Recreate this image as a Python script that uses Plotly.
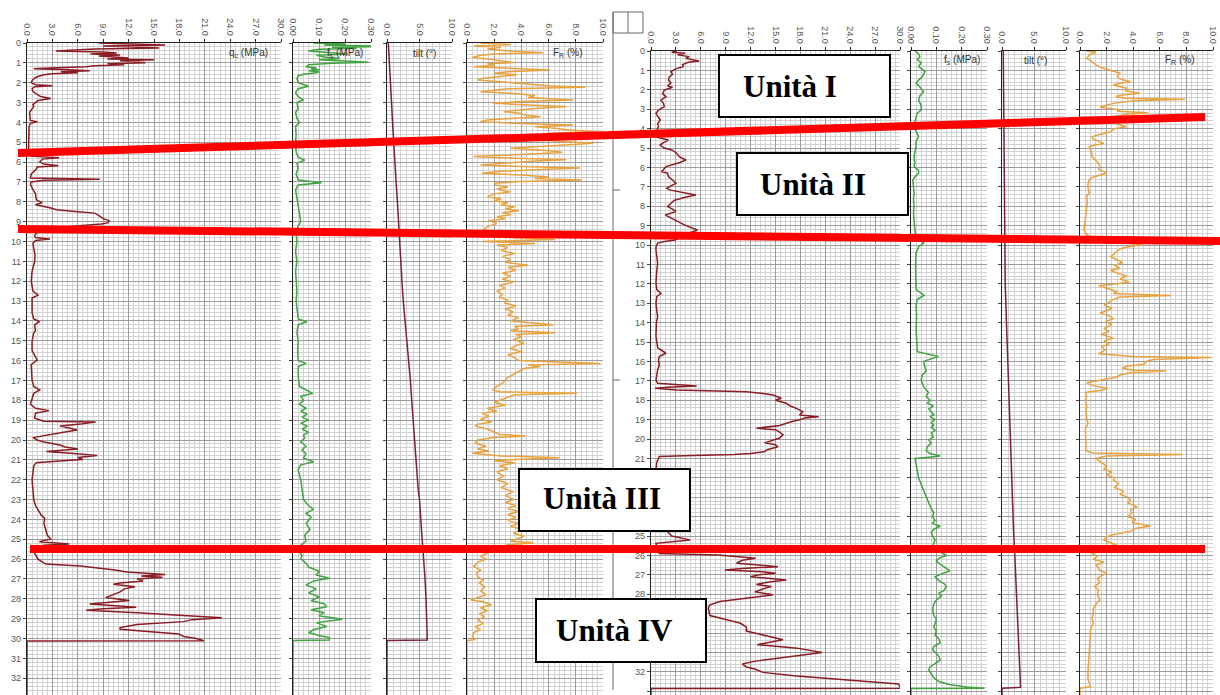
import plotly.graph_objects as go

W, H = 1220, 695

# ---------------- DATA (depth m, value) ----------------
# Left CPT log
L_QC = [(0.00,8.5),(0.05,14.5),(0.10,16.3),(0.15,9.0),(0.20,14.0),(0.25,15.6),(0.30,8.0),(0.35,5.0),(0.40,3.4),
        (0.45,9.0),(0.50,10.6),(0.55,7.5),(0.60,11.0),(0.65,8.5),(0.70,9.8),(0.75,12.0),(0.80,9.5),(0.85,15.0),
        (0.90,11.0),(0.95,12.5),(1.00,14.0),(1.05,9.5),(1.10,11.5),(1.15,8.0),(1.20,7.0),(1.25,3.5),(1.30,0.8),
        (1.35,5.0),(1.40,7.4),(1.45,4.0),(1.50,6.0),(1.55,3.0),(1.60,2.0),(1.70,1.2),(1.80,0.8),(1.90,0.6),
        (2.00,0.5),(2.10,1.0),(2.15,3.0),(2.20,0.9),(2.30,0.6),(2.45,0.7),(2.60,1.2),(2.70,1.6),(2.80,2.8),
        (2.90,1.3),(3.00,1.0),(3.10,0.7),(3.20,0.8),(3.35,0.5),(3.50,0.3),(3.70,0.35),(3.90,0.4),(3.97,1.2),
        (4.05,0.4),(4.20,0.25),(4.50,0.2),(5.00,0.2),(5.50,0.2),(5.70,0.4),(5.78,3.8),(5.85,1.8),(6.00,1.5),
        (6.10,2.0),(6.18,3.7),(6.25,1.2),(6.40,1.0),(6.60,0.5),(6.80,0.4),(6.87,8.6),(6.92,2.0),(7.00,0.5),
        (7.10,0.4),(7.30,0.6),(7.60,1.0),(7.90,1.1),(8.04,1.8),(8.15,1.0),(8.30,2.7),(8.40,3.5),(8.50,6.0),
        (8.57,8.0),(8.70,8.5),(8.85,9.0),(8.95,9.7),(9.05,9.6),(9.12,8.8),(9.25,5.0),(9.40,2.0),(9.55,1.2),
        (9.70,0.9),(9.80,1.0),(9.87,2.7),(9.95,1.0),(10.10,0.7),(10.40,0.8),(10.70,0.95),(11.00,0.9),(11.50,0.6),
        (12.00,0.5),(12.50,0.7),(12.70,1.3),(12.85,0.6),(13.20,0.6),(13.60,0.6),(13.90,0.8),(14.04,1.45),
        (14.20,0.9),(14.50,1.0),(14.60,0.8),(15.00,0.6),(15.50,0.6),(15.97,1.2),(16.20,0.5),(16.60,0.55),
        (17.00,0.6),(17.30,0.8),(17.48,1.5),(17.65,0.8),(18.00,0.6),(18.20,0.4),(18.40,1.0),(18.52,2.6),
        (18.65,1.0),(18.90,0.9),(19.05,2.0),(19.09,8.1),(19.20,6.3),(19.30,3.9),(19.40,5.0),(19.50,5.9),
        (19.60,4.5),(19.75,2.6),(19.88,0.7),(20.00,1.2),(20.10,2.0),(20.25,3.9),(20.35,4.5),(20.45,6.0),
        (20.58,2.3),(20.68,5.5),(20.78,8.3),(20.88,6.0),(20.98,6.6),(21.08,3.0),(21.14,1.1),(21.30,0.8),
        (21.60,0.7),(22.00,0.6),(22.50,0.7),(23.00,0.8),(23.30,1.0),(23.53,1.3),(23.80,1.7),(23.95,2.1),
        (24.20,2.0),(24.50,2.2),(24.80,2.4),(24.99,2.8),(25.12,1.45),(25.24,5.0),(25.30,2.0),(25.45,0.9),
        (25.70,0.9),(26.00,1.3),(26.13,1.7),(26.25,2.2),(26.35,6.3),(26.45,8.5),(26.55,10.4),(26.65,11.8),
        (26.77,16.3),(26.85,13.5),(26.92,16.0),(27.00,13.0),(27.10,13.7),(27.20,11.0),(27.27,10.2),(27.39,12.75),
        (27.50,11.5),(27.65,11.0),(27.80,10.0),(27.94,9.3),(28.09,12.1),(28.20,9.0),(28.26,7.4),(28.35,10.5),
        (28.43,12.9),(28.50,9.0),(28.58,7.0),(28.70,13.0),(28.80,17.0),(28.85,20.0),(28.95,23.0),(29.05,19.5),
        (29.15,18.5),(29.30,13.0),(29.45,11.0),(29.54,11.0),(29.65,14.0),(29.77,17.9),(29.90,18.5),(30.00,20.0),
        (30.11,20.9),(30.12,0.0),(32.85,0.0)]

L_FS = [(0.00,0.08),(0.05,0.20),(0.10,0.12),(0.15,0.30),(0.19,0.30),(0.22,0.15),(0.27,0.245),(0.32,0.10),
        (0.40,0.06),(0.47,0.15),(0.55,0.21),(0.62,0.09),(0.70,0.12),(0.78,0.18),(0.85,0.10),(0.92,0.22),
        (0.97,0.29),(1.02,0.15),(1.10,0.06),(1.20,0.05),(1.25,0.09),(1.30,0.07),(1.35,0.10),(1.40,0.06),
        (1.45,0.10),(1.50,0.09),(1.58,0.04),(1.65,0.02),(1.80,0.015),(2.00,0.02),(2.18,0.06),(2.30,0.02),
        (2.50,0.01),(2.70,0.02),(2.87,0.04),(3.00,0.015),(3.30,0.02),(3.50,0.01),(3.80,0.015),(4.00,0.025),
        (4.20,0.01),(4.60,0.012),(5.00,0.01),(5.50,0.012),(5.75,0.02),(5.90,0.045),(6.05,0.015),(6.30,0.02),
        (6.60,0.012),(6.90,0.02),(7.04,0.11),(7.15,0.02),(7.40,0.01),(7.80,0.015),(8.30,0.02),(8.60,0.025),
        (9.00,0.03),(9.20,0.02),(9.60,0.012),(10.00,0.015),(10.50,0.01),(11.00,0.015),(11.50,0.01),(12.00,0.012),
        (12.50,0.015),(13.00,0.012),(13.50,0.015),(13.90,0.02),(14.04,0.053),(14.20,0.02),(14.60,0.015),
        (15.00,0.02),(15.50,0.018),(16.00,0.02),(16.14,0.05),(16.30,0.02),(16.80,0.02),(17.30,0.025),
        (17.65,0.076),(17.80,0.03),(18.00,0.04),(18.20,0.025),(18.40,0.05),(18.55,0.03),(18.70,0.055),
        (18.85,0.035),(19.00,0.06),(19.15,0.03),(19.30,0.055),(19.45,0.035),(19.60,0.06),(19.75,0.04),
        (19.90,0.045),(20.10,0.03),(20.30,0.05),(20.50,0.035),(20.70,0.05),(20.90,0.04),(21.10,0.08),
        (21.25,0.03),(21.50,0.02),(22.00,0.03),(22.50,0.035),(23.00,0.04),(23.30,0.06),(23.50,0.078),
        (23.70,0.05),(23.90,0.07),(24.20,0.05),(24.50,0.065),(24.80,0.045),(25.10,0.05),(25.30,0.03),
        (25.60,0.02),(25.80,0.035),(26.00,0.03),(26.20,0.05),(26.40,0.06),(26.60,0.10),(26.80,0.09),
        (26.97,0.14),(27.10,0.08),(27.30,0.05),(27.50,0.09),(27.70,0.06),(27.90,0.10),(28.10,0.07),
        (28.25,0.12),(28.40,0.13),(28.55,0.07),(28.70,0.12),(28.85,0.10),(29.03,0.19),(29.20,0.09),
        (29.40,0.13),(29.55,0.08),(29.70,0.06),(29.85,0.10),(29.95,0.14),(30.08,0.14),(30.10,0.0),(32.85,0.0)]

L_TILT = [(0,0.2),(1,0.4),(2,0.55),(3,0.7),(4,0.85),(5,1.0),(6,1.2),(7,1.4),(8,1.6),(9,1.75),(10,1.9),
          (11,2.1),(12,2.3),(13,2.5),(14,2.8),(15,3.05),(16,3.35),(17,3.6),(18,3.8),(19,4.0),(20,4.2),
          (21,4.4),(22,4.6),(22.5,4.8),(23,5.0),(23.7,5.1),(24.5,5.3),(25.4,5.5),(26,5.65),(27,5.85),
          (28,6.0),(29,6.1),(30.08,6.2),(30.1,0.0),(32.85,0.0)]

L_FR = [(0.00,1.0),(0.08,3.2),(0.15,0.5),(0.22,2.5),(0.30,1.5),(0.40,3.0),(0.49,5.6),(0.55,2.0),(0.62,1.0),
        (0.73,0.4),(0.80,1.5),(0.90,2.5),(0.98,3.4),(1.05,1.5),(1.12,2.0),(1.20,0.5),(1.28,3.0),(1.36,6.1),
        (1.45,3.0),(1.52,2.0),(1.60,3.65),(1.70,2.0),(1.78,1.2),(1.86,0.8),(1.95,2.5),(2.05,4.0),(2.15,6.0),
        (2.23,8.7),(2.30,3.0),(2.38,2.0),(2.45,1.0),(2.55,3.5),(2.65,5.0),(2.75,4.5),(2.87,7.8),(2.95,4.0),
        (3.04,1.9),(3.12,4.5),(3.20,7.3),(3.30,5.0),(3.38,3.5),(3.46,2.7),(3.55,4.0),(3.63,4.2),(3.71,5.4),
        (3.80,3.0),(3.88,1.5),(3.96,1.0),(4.04,3.5),(4.13,7.8),(4.22,5.0),(4.30,6.5),(4.38,7.5),(4.47,9.5),
        (4.55,6.0),(4.63,7.0),(4.72,5.5),(4.80,6.0),(4.88,5.2),(4.96,7.0),(5.05,9.3),(5.13,7.5),(5.22,5.0),
        (5.30,3.2),(5.38,5.0),(5.45,6.5),(5.52,7.0),(5.60,4.0),(5.66,2.0),(5.72,0.5),(5.80,3.5),(5.88,7.3),
        (5.95,5.0),(6.05,3.0),(6.14,1.0),(6.22,4.0),(6.30,8.3),(6.38,5.0),(6.46,2.5),(6.56,1.1),(6.65,4.0),
        (6.75,6.0),(6.82,5.0),(6.90,8.4),(6.98,4.0),(7.06,2.0),(7.15,2.1),(7.25,3.0),(7.35,2.2),(7.42,2.5),
        (7.50,3.2),(7.60,2.0),(7.74,1.5),(7.85,2.5),(7.95,2.0),(8.05,3.0),(8.15,2.5),(8.25,3.5),(8.35,2.8),
        (8.45,3.8),(8.55,2.6),(8.65,3.2),(8.75,2.2),(8.85,2.8),(8.95,1.6),(9.10,2.2),(9.25,1.5),(9.40,1.2),
        (9.55,2.0),(9.70,1.5),(9.80,3.0),(9.90,6.5),(10.00,1.2),(10.10,5.0),(10.18,2.2),(10.30,3.0),
        (10.45,2.5),(10.60,3.5),(10.75,2.6),(10.90,3.2),(11.05,2.8),(11.20,4.5),(11.30,3.0),(11.45,3.6),
        (11.60,2.6),(11.75,3.2),(11.90,2.6),(12.05,3.4),(12.20,2.4),(12.35,2.8),(12.50,2.2),(12.65,2.6),
        (12.80,2.4),(12.95,3.0),(13.10,2.8),(13.25,3.6),(13.40,2.8),(13.55,3.4),(13.70,3.0),(13.85,3.8),
        (14.00,3.2),(14.20,6.35),(14.28,3.5),(14.40,3.8),(14.50,3.2),(14.60,6.5),(14.68,3.6),(14.80,4.0),
        (14.95,3.4),(15.10,4.2),(15.25,3.6),(15.40,3.2),(15.55,4.0),(15.70,3.0),(15.85,3.5),(16.00,3.8),
        (16.14,9.8),(16.22,4.5),(16.30,5.4),(16.40,4.2),(16.55,3.8),(16.70,3.4),(16.85,3.0),(17.00,2.8),
        (17.15,2.6),(17.30,2.2),(17.48,1.9),(17.58,2.5),(17.65,8.1),(17.72,3.5),(17.80,3.2),(17.95,2.6),
        (18.10,2.0),(18.25,2.8),(18.40,1.5),(18.55,2.2),(18.65,1.1),(18.80,1.6),(18.95,1.0),(19.10,1.8),
        (19.20,0.8),(19.30,0.6),(19.45,1.5),(19.60,2.0),(19.72,2.4),(19.80,4.3),(19.88,2.0),(20.00,0.8),
        (20.17,0.6),(20.30,1.4),(20.45,0.8),(20.55,1.6),(20.67,0.4),(20.80,2.5),(20.90,6.8),(20.98,3.5),
        (21.05,2.0),(21.15,3.5),(21.30,2.4),(21.45,3.0),(21.60,2.2),(21.82,2.7),(22.00,2.2),(22.20,3.0),
        (22.40,2.5),(22.60,3.4),(22.80,2.8),(23.00,3.45),(23.15,2.8),(23.30,3.6),(23.45,3.0),(23.60,3.8),
        (23.75,3.0),(23.90,3.6),(24.05,3.0),(24.20,3.8),(24.35,3.2),(24.50,4.0),(24.70,3.4),(24.85,4.2),
        (25.00,3.6),(25.10,3.2),(25.18,4.9),(25.28,3.0),(25.40,2.5),(25.55,2.0),(25.70,1.4),(25.85,1.0),
        (26.00,1.4),(26.15,0.8),(26.38,0.5),(26.55,1.0),(26.70,0.7),(26.90,0.8),(27.05,1.2),(27.20,0.9),
        (27.40,1.3),(27.60,1.0),(27.80,1.4),(28.06,0.3),(28.15,1.2),(28.30,1.8),(28.45,1.0),(28.60,1.5),
        (28.75,0.9),(28.90,1.3),(29.06,0.8),(29.25,1.2),(29.40,0.6),(29.55,1.0),(29.70,0.5),(29.90,0.4),
        (30.05,0.6),(30.10,0.0),(32.85,0.0)]

# Right CPT log
R_QC = [(0.00,3.1),(0.06,2.5),(0.12,4.1),(0.20,3.2),(0.29,4.6),(0.38,4.2),(0.45,5.0),(0.51,5.8),(0.58,4.5),
        (0.70,3.8),(0.80,3.9),(0.92,3.0),(1.06,2.4),(1.20,2.6),(1.35,2.2),(1.50,2.1),(1.65,2.4),(1.80,2.0),
        (1.87,2.6),(2.01,1.6),(2.20,1.4),(2.35,1.8),(2.53,1.2),(2.70,1.5),(2.87,1.6),(3.05,0.9),(3.21,0.6),
        (3.40,0.9),(3.56,1.1),(3.75,0.8),(3.90,0.9),(4.10,0.7),(4.30,0.7),(4.45,0.8),(4.59,2.1),(4.72,1.5),
        (4.85,1.1),(5.00,1.6),(5.10,2.5),(5.27,3.1),(5.45,3.4),(5.62,4.2),(5.75,3.5),(5.96,1.8),(6.13,1.5),
        (6.22,1.3),(6.30,2.0),(6.48,2.1),(6.65,2.6),(6.82,3.0),(6.95,2.4),(7.08,1.9),(7.16,2.2),(7.30,3.8),
        (7.42,5.4),(7.55,4.0),(7.70,2.8),(7.85,2.4),(8.02,2.0),(8.15,2.6),(8.28,3.0),(8.45,1.7),(8.60,2.4),
        (8.80,3.4),(9.00,4.2),(9.23,5.6),(9.40,4.5),(9.60,3.5),(9.74,2.9),(9.82,1.6),(9.90,0.8),(10.10,0.6),
        (10.26,0.6),(10.60,0.7),(10.95,0.8),(11.30,0.7),(11.70,0.65),(11.98,0.6),(12.30,0.7),(12.50,1.2),
        (12.65,0.7),(13.00,0.6),(13.40,0.7),(13.70,0.8),(14.00,0.65),(14.40,0.6),(14.70,0.6),(15.00,0.7),
        (15.30,0.8),(15.58,1.8),(15.75,1.0),(15.93,0.9),(16.20,1.0),(16.44,0.8),(16.70,0.7),(16.96,0.6),
        (17.13,0.8),(17.27,5.5),(17.33,2.0),(17.39,0.5),(17.47,3.1),(17.56,11.5),(17.65,13.5),(17.73,14.7),
        (17.90,15.7),(18.00,15.0),(18.16,16.3),(18.30,16.8),(18.42,17.5),(18.59,18.3),(18.76,17.9),
        (18.85,20.2),(18.92,18.5),(19.00,18.0),(19.10,17.0),(19.20,16.3),(19.30,15.5),(19.45,12.7),
        (19.52,15.0),(19.65,15.5),(19.78,15.9),(19.95,15.5),(20.10,14.5),(20.20,13.7),(20.30,15.0),
        (20.40,15.3),(20.55,14.0),(20.65,13.7),(20.75,12.0),(20.80,10.0),(20.86,4.0),(20.90,1.0),(21.20,0.7),
        (21.60,0.6),(22.00,0.7),(22.50,0.8),(23.00,1.0),(23.50,1.1),(24.00,1.3),(24.50,1.6),(24.78,2.0),
        (25.00,2.5),(25.20,4.7),(25.30,2.0),(25.38,0.6),(25.60,0.8),(25.90,1.0),(25.98,8.1),(26.05,10.0),
        (26.15,12.6),(26.25,11.0),(26.40,10.3),(26.50,13.0),(26.58,15.3),(26.67,11.0),(26.75,8.9),
        (26.84,13.5),(26.92,15.0),(27.00,13.0),(27.10,12.0),(27.27,16.3),(27.38,14.0),(27.50,12.7),
        (27.60,14.5),(27.70,13.7),(27.88,12.5),(28.03,14.7),(28.20,11.5),(28.30,9.5),(28.38,8.3),(28.55,7.1),
        (28.70,6.9),(28.90,7.0),(29.10,7.1),(29.30,9.0),(29.50,10.8),(29.70,11.5),(29.90,11.5),(30.10,13.5),
        (30.35,15.9),(30.50,14.0),(30.60,12.8),(30.78,17.6),(30.90,19.5),(31.00,20.6),(31.10,19.0),
        (31.20,17.0),(31.35,14.5),(31.45,12.6),(31.60,11.0),(31.75,11.5),(31.86,12.5),(32.03,13.5),
        (32.20,17.2),(32.37,22.0),(32.45,24.0),(32.55,26.5),(32.63,29.8),(32.75,30.0),(32.85,30.0),
        (32.86,0.0),(33.2,0.0)]

R_FS = [(0.00,0.016),(0.15,0.03),(0.29,0.035),(0.45,0.025),(0.60,0.04),(0.80,0.03),(0.95,0.045),(1.06,0.055),
        (1.20,0.05),(1.32,0.045),(1.50,0.03),(1.67,0.02),(1.85,0.035),(2.10,0.05),(2.30,0.035),(2.53,0.03),
        (2.80,0.04),(3.04,0.04),(3.20,0.025),(3.40,0.02),(3.65,0.015),(3.90,0.012),(4.15,0.02),(4.42,0.03),
        (4.65,0.02),(4.93,0.02),(5.20,0.015),(5.50,0.012),(5.75,0.015),(5.96,0.012),(6.15,0.03),(6.30,0.03),
        (6.50,0.015),(6.65,0.007),(7.00,0.01),(7.30,0.012),(7.68,0.01),(8.00,0.012),(8.37,0.01),(8.80,0.012),
        (9.20,0.015),(9.60,0.02),(9.90,0.05),(10.10,0.03),(10.40,0.02),(11.00,0.018),(11.78,0.02),(12.30,0.02),
        (12.60,0.052),(12.80,0.025),(13.10,0.02),(13.70,0.022),(14.30,0.02),(14.90,0.022),(15.50,0.025),
        (15.75,0.108),(16.00,0.05),(16.30,0.055),(16.50,0.06),(16.70,0.045),(16.96,0.04),(17.30,0.05),
        (17.60,0.069),(17.80,0.06),(18.00,0.075),(18.15,0.065),(18.30,0.088),(18.45,0.07),(18.60,0.08),
        (18.75,0.09),(18.85,0.075),(19.00,0.095),(19.15,0.08),(19.30,0.09),(19.40,0.08),(19.55,0.095),
        (19.70,0.08),(19.90,0.088),(20.05,0.07),(20.20,0.08),(20.40,0.065),(20.60,0.06),(20.75,0.075),
        (20.88,0.115),(20.95,0.06),(21.00,0.016),(21.30,0.02),(21.60,0.025),(22.00,0.03),(22.50,0.045),
        (22.97,0.06),(23.30,0.07),(23.60,0.08),(23.80,0.09),(24.00,0.085),(24.20,0.095),(24.35,0.085),
        (24.50,0.115),(24.65,0.09),(24.80,0.08),(25.00,0.085),(25.20,0.095),(25.40,0.09),(25.55,0.085),
        (25.70,0.10),(25.85,0.12),(26.00,0.14),(26.15,0.11),(26.30,0.10),(26.45,0.115),(26.60,0.13),
        (26.80,0.154),(26.95,0.12),(27.10,0.095),(27.30,0.11),(27.45,0.13),(27.60,0.14),(27.80,0.13),
        (27.95,0.11),(28.10,0.12),(28.30,0.10),(28.50,0.09),(28.80,0.085),(29.10,0.09),(29.30,0.10),
        (29.50,0.095),(29.70,0.09),(29.90,0.10),(30.10,0.095),(30.30,0.11),(30.50,0.115),(30.70,0.09),
        (30.86,0.085),(31.05,0.10),(31.20,0.11),(31.40,0.115),(31.60,0.09),(31.75,0.075),(31.90,0.07),
        (32.10,0.08),(32.30,0.09),(32.50,0.11),(32.65,0.15),(32.78,0.22),(32.85,0.29),(32.86,0.0),(33.2,0.0)]

R_TILT = [(0,0.2),(2,0.25),(4,0.3),(6,0.3),(8,0.3),(10,0.35),(12,0.5),(14,0.7),(16,0.9),(18,1.05),
          (19.5,1.2),(21,1.4),(22.5,1.6),(24.7,1.8),(26,2.0),(28.1,2.3),(30,2.55),(31.5,2.75),(32.8,2.9),
          (32.85,0.0),(33.2,0.0)]

R_FR = [(0.00,0.5),(0.06,1.2),(0.12,1.0),(0.20,0.7),(0.30,0.6),(0.38,0.5),(0.50,0.8),(0.62,1.0),(0.72,1.2),
        (0.85,1.6),(0.98,2.3),(1.08,2.7),(1.15,3.0),(1.28,2.8),(1.40,2.9),(1.50,3.3),(1.58,3.8),(1.66,3.0),
        (1.75,2.5),(1.85,3.0),(1.92,3.5),(2.05,3.4),(2.18,4.5),(2.28,3.0),(2.35,2.7),(2.43,3.5),(2.49,7.9),
        (2.56,4.0),(2.63,3.2),(2.70,2.5),(2.80,2.0),(2.90,1.5),(2.97,2.4),(3.04,3.0),(3.11,2.8),(3.18,5.1),
        (3.26,3.5),(3.34,3.0),(3.40,2.5),(3.52,2.8),(3.65,3.0),(3.78,2.8),(3.90,3.5),(4.00,2.6),(4.16,2.3),
        (4.30,1.5),(4.42,0.9),(4.55,1.0),(4.66,1.5),(4.76,1.8),(4.85,1.2),(4.93,0.7),(5.10,0.8),(5.30,0.9),
        (5.45,0.9),(5.60,1.1),(5.80,1.4),(5.96,1.5),(6.10,1.4),(6.22,1.8),(6.30,2.0),(6.42,1.4),(6.55,0.8),
        (6.65,0.7),(6.85,0.6),(7.05,0.6),(7.30,0.7),(7.50,0.5),(7.80,0.55),(8.10,0.5),(8.37,0.45),(8.70,0.4),
        (9.00,0.35),(9.20,0.3),(9.40,0.4),(9.60,0.8),(9.80,2.5),(9.99,4.6),(10.08,3.8),(10.15,3.2),(10.30,2.8),
        (10.45,2.6),(10.60,2.3),(10.75,2.7),(10.90,3.2),(11.05,2.6),(11.20,3.0),(11.30,2.3),(11.45,2.8),
        (11.60,3.5),(11.75,3.0),(11.90,3.7),(12.00,2.8),(12.10,1.4),(12.25,2.2),(12.40,2.8),(12.50,2.5),
        (12.60,6.8),(12.68,3.0),(12.80,2.5),(12.95,2.2),(13.10,1.8),(13.25,2.4),(13.40,2.0),(13.50,1.5),
        (13.65,2.2),(13.80,2.5),(13.95,1.9),(14.10,2.4),(14.30,1.8),(14.45,2.2),(14.60,1.6),(14.80,2.5),
        (14.95,1.8),(15.10,2.2),(15.25,1.6),(15.40,1.9),(15.50,1.7),(15.60,1.4),(15.75,4.0),(15.80,9.9),
        (15.90,5.5),(16.00,5.0),(16.15,4.8),(16.25,3.5),(16.35,3.2),(16.45,4.0),(16.50,6.5),(16.58,3.8),
        (16.70,3.0),(16.80,2.8),(16.95,1.5),(17.10,0.5),(17.25,1.0),(17.40,2.1),(17.50,1.5),(17.60,0.4),
        (17.80,0.5),(18.00,0.4),(18.30,0.5),(18.60,0.45),(18.90,0.5),(19.20,0.6),(19.50,0.4),(19.80,0.45),
        (20.10,0.45),(20.40,0.45),(20.60,0.45),(20.72,1.0),(20.80,7.7),(20.88,2.0),(21.00,1.2),(21.20,1.6),
        (21.40,2.0),(21.55,1.8),(21.70,2.4),(21.85,2.0),(22.00,2.6),(22.10,2.5),(22.30,2.9),(22.50,2.6),
        (22.70,3.3),(22.85,3.0),(22.97,3.5),(23.15,3.8),(23.30,3.6),(23.50,4.3),(23.65,3.8),(23.80,3.9),
        (24.00,3.6),(24.15,4.2),(24.30,3.9),(24.50,5.3),(24.60,4.2),(24.75,3.8),(24.86,3.0),(24.95,2.4),
        (25.05,2.0),(25.20,1.8),(25.35,2.3),(25.50,2.8),(25.62,1.8),(25.75,1.2),(25.90,0.9),(26.05,1.3),
        (26.20,1.0),(26.35,1.8),(26.50,1.2),(26.65,1.4),(26.80,1.5),(26.90,2.0),(27.05,1.6),(27.20,1.3),
        (27.40,1.5),(27.60,1.1),(27.80,1.4),(28.00,1.3),(28.30,1.5),(28.50,1.2),(28.75,1.0),(29.00,1.0),
        (29.25,0.9),(29.50,1.0),(29.80,0.8),(30.10,0.8),(30.50,0.75),(30.90,0.7),(31.30,0.65),(31.60,0.6),
        (32.00,0.6),(32.40,0.6),(32.76,0.8),(32.85,0.0),(33.2,0.0)]

UNITS = ["Unità I", "Unità II", "Unità III", "Unità IV"]
AXIS_LABELS = ["q<sub>c</sub> (MPa)", "f<sub>s</sub> (MPa)", "tilt (°)", "F<sub>R</sub> (%)"]

# ---------------- LAYOUT TABLES (pixels) ----------------
QC_COL, FS_COL, TILT_COL, FR_COL = "#8a1c24", "#3fa33f", "#7a1f3a", "#e8a23e"
# (data, colour, range, major dtick, minor dtick, tick format, x0px, x1px, log index)
panels = [
    (L_QC,   QC_COL,   30,  3,   0.6,  ".1f", 27,  281, 0),
    (L_FS,   FS_COL,   0.3, 0.1, 0.02, ".2f", 293, 371, 0),
    (L_TILT, TILT_COL, 10,  5,   1.0,  ".1f", 387, 452, 0),
    (L_FR,   FR_COL,   10,  2,   0.4,  ".1f", 467, 603, 0),
    (R_QC,   QC_COL,   30,  3,   0.6,  ".1f", 651, 900, 1),
    (R_FS,   FS_COL,   0.3, 0.1, 0.02, ".2f", 911, 987, 1),
    (R_TILT, TILT_COL, 10,  5,   1.0,  ".1f", 1002, 1066, 1),
    (R_FR,   FR_COL,   10,  2,   0.4,  ".1f", 1080, 1213, 1),
]
# per log: top pixel, pixels per metre
logs = [(43, 19.85), (51, 19.4)]

fig = go.Figure()
tickfont = dict(family="Liberation Sans, Arial", size=9, color="#555555")

for i, (data, col, xmax, dt, mdt, fmt, x0, x1, lg) in enumerate(panels, start=1):
    depth = [p[0] for p in data]
    val = [p[1] for p in data]
    fig.add_trace(go.Scatter(x=val, y=depth, mode="lines",
                             line=dict(color=col, width=1.5),
                             xaxis=f"x{i}", yaxis=f"y{i}",
                             showlegend=False, hoverinfo="skip"))
    top_px, ppm = logs[lg]
    bottom_depth = (H - top_px) / ppm
    fig.update_layout(**{
        f"xaxis{i}": dict(domain=[x0 / W, x1 / W], range=[0, xmax], side="top",
                          anchor=f"y{i}", tick0=0, dtick=dt, tickformat=fmt, tickangle=90,
                          showline=True, linecolor="#222222", linewidth=1.2,
                          ticks="outside", ticklen=3, tickcolor="#222222",
                          showgrid=True, gridcolor="#9c9c9c", gridwidth=1,
                          minor=dict(dtick=mdt, tick0=0, showgrid=True, gridcolor="#d2d2d2", gridwidth=1),
                          zeroline=False, tickfont=tickfont, fixedrange=True, automargin=False),
        f"yaxis{i}": dict(domain=[0, 1 - top_px / H], range=[bottom_depth, 0], anchor=f"x{i}",
                          tick0=0, dtick=1, showline=True, linecolor="#222222", linewidth=1.2,
                          ticks="outside", ticklen=3, tickcolor="#444444",
                          showticklabels=(i in (1, 5)),
                          showgrid=True, gridcolor="#9c9c9c", gridwidth=1,
                          minor=dict(dtick=0.2, tick0=0, showgrid=True, gridcolor="#d2d2d2", gridwidth=1),
                          zeroline=False, tickfont=tickfont, fixedrange=True, automargin=False),
    })

shapes = []
annotations = []

# axis-name labels inside panels (the right q_c label is hidden under the "Unità I" box)
label_pos = [(248, 53, 0), (345, 53, 1), (424, 53, 2), (568, 53, 3),
             (962, 60, 1), (1035, 60, 2), (1180, 60, 3)]
for px, py, k in label_pos:
    annotations.append(dict(x=px / W, y=1 - py / H, xref="paper", yref="paper",
                            xanchor="center", yanchor="middle",
                            text=AXIS_LABELS[k], showarrow=False,
                            font=dict(family="Liberation Sans, Arial", size=10, color="#333333")))

# middle document strip
shapes.append(dict(type="line", xref="paper", yref="paper", x0=613 / W, x1=613 / W,
                   y0=1 - 12 / H, y1=1 - 690 / H, line=dict(color="#666666", width=1)))
shapes.append(dict(type="rect", xref="paper", yref="paper", x0=613 / W, x1=643 / W,
                   y0=1 - 12 / H, y1=1 - 33 / H, line=dict(color="#666666", width=1)))
shapes.append(dict(type="line", xref="paper", yref="paper", x0=628 / W, x1=628 / W,
                   y0=1 - 12 / H, y1=1 - 33 / H, line=dict(color="#666666", width=1)))
for yb in (190, 380, 640):
    shapes.append(dict(type="line", xref="paper", yref="paper", x0=613 / W, x1=620 / W,
                       y0=1 - yb / H, y1=1 - yb / H, line=dict(color="#666666", width=1)))

# red unit boundaries (pixel endpoints)
red_lines = [((18, 153), (1205, 117)), ((18, 229), (1220, 241)), ((30, 549), (1205, 549))]
for (xa, ya), (xb, yb) in red_lines:
    shapes.append(dict(type="line", xref="paper", yref="paper", layer="above",
                       x0=xa / W, y0=1 - ya / H, x1=xb / W, y1=1 - yb / H,
                       line=dict(color="#ff0000", width=8)))

# unit boxes: (x0, y0, x1, y1, text centre x, text centre y)
boxes = [(719, 55, 890, 117, 790, 87), (737, 153, 908, 215, 813, 184),
         (519, 469, 690, 531, 602, 499), (536, 599, 706, 662, 615, 630)]
for k, (bx0, by0, bx1, by1, tx, ty) in enumerate(boxes):
    shapes.append(dict(type="rect", xref="paper", yref="paper", layer="above",
                       x0=bx0 / W, x1=bx1 / W, y0=1 - by0 / H, y1=1 - by1 / H,
                       fillcolor="white", line=dict(color="black", width=2)))
    annotations.append(dict(x=tx / W, y=1 - ty / H, xref="paper", yref="paper",
                            xanchor="center", yanchor="middle",
                            text=f"<b>{UNITS[k]}</b>", showarrow=False,
                            font=dict(family="Liberation Serif, Times New Roman", size=31, color="black")))

fig.update_layout(width=W, height=H, margin=dict(l=0, r=0, t=0, b=0, autoexpand=False),
                  paper_bgcolor="white", plot_bgcolor="white",
                  shapes=shapes, annotations=annotations)

fig.write_html("out.html", config={"displayModeBar": False},
               post_script="document.body.style.margin='0px';document.body.style.overflow='hidden';")
